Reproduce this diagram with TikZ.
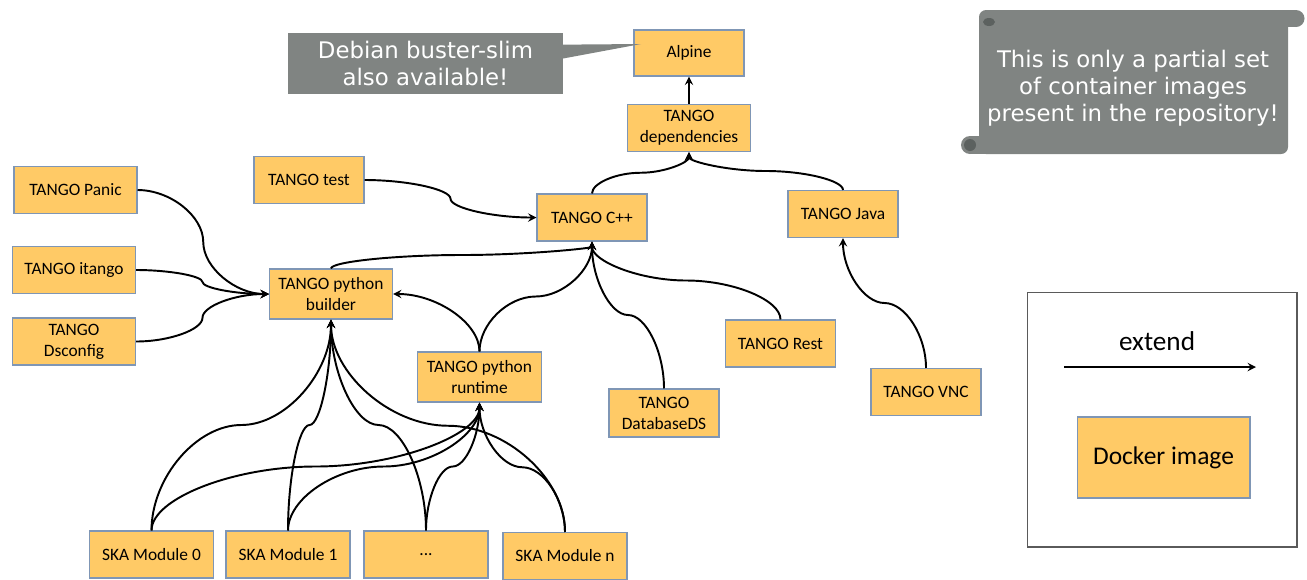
\documentclass[tikz,border=0pt]{standalone}
\usepackage{fontspec}
\setmainfont{Carlito}
\newfontfamily\notefont{DejaVu Sans}
\usetikzlibrary{arrows, calc, positioning}
\definecolor{imagefill}{RGB}{255,202,102}
\definecolor{imageline}{RGB}{127,150,181}
\definecolor{notegrey}{RGB}{128,132,130}
\definecolor{notedark}{RGB}{92,97,95}
\definecolor{legendline}{RGB}{90,90,90}
\tikzstyle{imagebox} = [
	rectangle,
	minimum width=2.2cm,
	minimum height=0.94cm,
	text centered,
	align=center,
	draw=imageline,
	line width=0.6pt,
	fill=imagefill,
	font=\fontsize{9.9}{11.9}\selectfont
]
\tikzstyle{wideimage} = [
	imagebox,
	minimum width=2.48cm
]
\tikzstyle{notebox} = [
	fill=notegrey,
	text=white,
	align=center,
	font=\notefont\fontsize{13}{15.3}\selectfont
]
\tikzstyle{arrow} = [line width=1.1pt,->,>=stealth]
\tikzstyle{vcurve} = [to path={let \p1=(\tikztostart), \p2=(\tikztotarget) in
	.. controls (\x1,{0.75*\y1+0.25*\y2}) and ({0.75*\x1+0.25*\x2},{0.5*\y1+0.5*\y2})
	.. ({0.5*\x1+0.5*\x2},{0.5*\y1+0.5*\y2})
	.. controls ({0.25*\x1+0.75*\x2},{0.5*\y1+0.5*\y2}) and (\x2,{0.25*\y1+0.75*\y2})
	.. (\x2,\y2)}]
\tikzstyle{hcurve} = [to path={let \p1=(\tikztostart), \p2=(\tikztotarget) in
	.. controls ({0.75*\x1+0.25*\x2},\y1) and ({0.5*\x1+0.5*\x2},{0.75*\y1+0.25*\y2})
	.. ({0.5*\x1+0.5*\x2},{0.5*\y1+0.5*\y2})
	.. controls ({0.5*\x1+0.5*\x2},{0.25*\y1+0.75*\y2}) and ({0.25*\x1+0.75*\x2},\y2)
	.. (\x2,\y2)}]
\tikzstyle{lcurve} = [to path={let \p1=(\tikztostart), \p2=(\tikztotarget) in
	.. controls (\x1,{0.5*\y1+0.5*\y2}) and ({0.5*\x1+0.5*\x2},\y2) .. (\x2,\y2)}]

\begin{document}
\begin{tikzpicture}[x=0.02cm, y=0.02cm]
	\useasboundingbox (0,0) rectangle (1307,-579);
	% images
	\node (alpine) [imagebox, minimum height=0.92cm] at (689,-53) {Alpine};
	\node (deps) [wideimage, minimum width=2.46cm] at (689,-128) {TANGO\\dependencies};
	\node (test) [imagebox] at (309,-180) {TANGO test};
	\node (cpp) [imagebox] at (592,-217.5) {TANGO C++};
	\node (java) [imagebox] at (843,-214) {TANGO Java};
	\node (panic) [wideimage, minimum width=2.46cm] at (75.5,-190) {TANGO Panic};
	\node (itango) [wideimage, minimum width=2.46cm] at (74,-270) {TANGO itango};
	\node (dsconfig) [wideimage, minimum width=2.46cm] at (74,-341.5) {TANGO\\Dsconfig};
	\node (builder) [wideimage, minimum width=2.46cm, minimum height=1cm] at (331,-294) {TANGO python\\builder};
	\node (runtime) [wideimage, minimum height=1cm] at (479.5,-377) {TANGO python\\runtime};
	\node (rest) [imagebox] at (780.5,-343.5) {TANGO Rest};
	\node (dbds) [imagebox, minimum height=0.96cm] at (664,-413) {TANGO\\DatabaseDS};
	\node (vnc) [imagebox] at (926,-392) {TANGO VNC};
	\node (m0) [wideimage] at (151.5,-554.5) {SKA Module 0};
	\node (m1) [wideimage] at (288,-554.5) {SKA Module 1};
	\node (mdots) [wideimage] at (426,-554.5) {...};
	\node (mn) [wideimage] at (565,-556) {SKA Module n};

	\draw [arrow] (deps.north) -- (alpine.south);
	\draw [arrow] (cpp.north) to[vcurve] (deps.south);
	\draw [arrow] (java.north) to[vcurve] (deps.south);
	\draw [arrow] (test.east) to[hcurve] (cpp.west);
	\draw [arrow] (panic.east) to[hcurve] (builder.west);
	\draw [arrow] (itango.east) to[hcurve] (builder.west);
	\draw [arrow] (dsconfig.east) to[hcurve] (builder.west);
	\draw [arrow] (builder.north) to[vcurve] (cpp.south);
	\draw [arrow] (runtime.north) to[vcurve] (cpp.south);
	\draw [arrow] (runtime.north) to[lcurve] (builder.east);
	\draw [arrow] (dbds.north) to[vcurve] (cpp.south);
	\draw [arrow] (rest.north) to[vcurve] (cpp.south);
	\draw [arrow] (vnc.north) to[vcurve] (java.south);
	\foreach \m in {m0,m1,mdots,mn} {
		\draw [arrow] (\m.north) to[vcurve] (builder.south);
		\draw [arrow] (\m.north) to[vcurve] (runtime.south);
	}

	% callout
	\node (debian) [notebox, minimum width=5.5cm, minimum height=1.22cm] at (425.5,-63.5) {Debian buster-slim\\also available!};
	\coordinate (debtip) at (641,-44);
	\fill [notegrey] ($(debian.north east)+(-1,-12)$) -- (debtip) -- ($(debian.north east)+(-1,-26)$) -- cycle;

	% scroll
	\fill [notegrey, rounded corners=0.14cm] (979,-10) rectangle (1288,-154);
	\fill [notegrey] (1280,-10) rectangle (1296,-27);
	\fill [notegrey] (1296,-18.5) circle [radius=8.5];
	\fill [notegrey] (970,-136) rectangle (990,-154);
	\fill [notegrey] (970,-145) circle [radius=9];
	\fill [notedark] (989,-22) circle [x radius=6, y radius=4];
	\fill [notedark] (970,-145) circle [radius=6];
	\node (partial) [notebox, fill=none] at (1133,-88) {This is only a partial set\\of container images\\present in the repository!};

	% legend
	\node (legend) [draw=legendline, line width=0.6pt, minimum width=5.4cm, minimum height=5.1cm] at (1162,-419.5) {};
	\node (extlabel) [font=\fontsize{15.5}{18}\selectfont] at (1157,-341) {extend};
	\coordinate (extL) at (1064,-367);
	\coordinate (extR) at (1256,-367);
	\draw [arrow] (extL) -- (extR);
	\node (docker) [imagebox, minimum width=3.46cm, minimum height=1.62cm, font=\fontsize{14.5}{17}\selectfont] at (1163.5,-457.5) {Docker image};
\end{tikzpicture}
\end{document}
